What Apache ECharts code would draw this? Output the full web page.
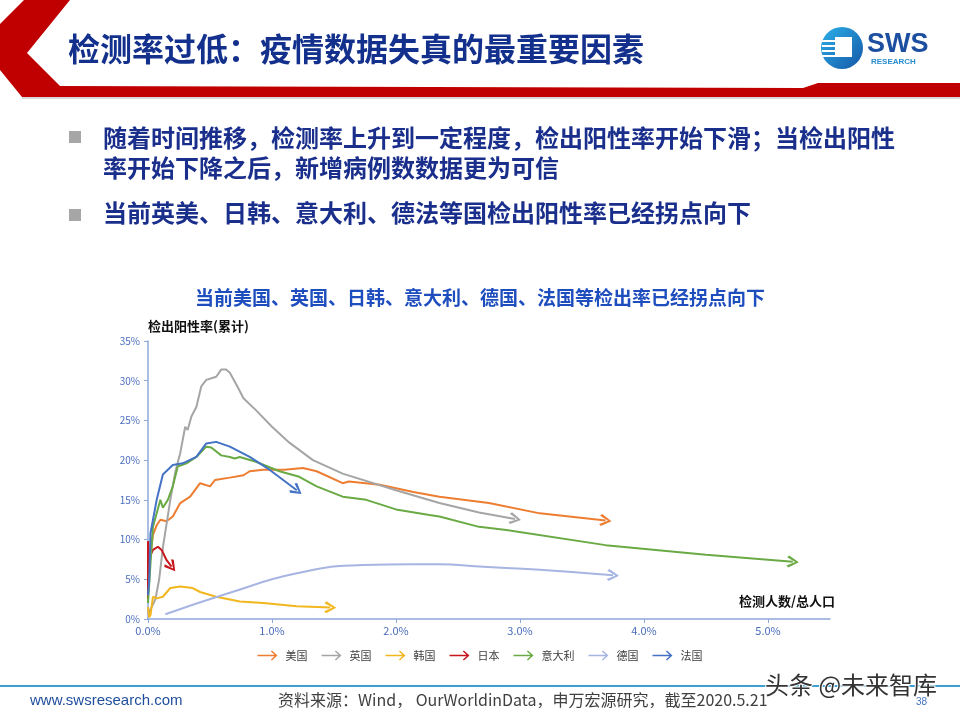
<!DOCTYPE html>
<html>
<head>
<meta charset="utf-8">
<script src="https://cdn.jsdelivr.net/npm/echarts@6/dist/echarts.min.js"></script>
<style>
  html, body { margin: 0; padding: 0; background: #fff; }
  #main { width: 960px; height: 720px; }
</style>
</head>
<body>
<div id="main"></div>
<script>
  // 检测人数/总人口 (%), 检出阳性率 (%)
  var usData = [[0.02,8],[0.04,10.6],[0.07,11.8],[0.1,12.5],[0.15,12.3],[0.2,12.9],[0.26,14.6],[0.34,15.4],[0.42,17.1],[0.5,16.7],[0.54,17.5],[0.66,17.8],[0.77,18.1],[0.82,18.6],[0.93,18.8],[1.1,18.8],[1.25,19.0],[1.36,18.6],[1.57,17.1],[1.62,17.3],[1.87,16.9],[2.14,16.0],[2.35,15.4],[2.75,14.6],[3.16,13.3],[3.69,12.4]]
  var ukData = [[0,0.7],[0.03,1.5],[0.06,2.5],[0.09,5],[0.12,9],[0.15,12],[0.18,15],[0.22,18.5],[0.26,20.9],[0.3,24.2],[0.32,23.8],[0.35,25.5],[0.39,26.7],[0.43,29.3],[0.47,30.1],[0.55,30.5],[0.59,31.4],[0.63,31.4],[0.66,31],[0.72,29.3],[0.77,27.8],[0.87,26.3],[1.0,24.2],[1.14,22.2],[1.33,20.0],[1.57,18.3],[2.0,16.2],[2.35,14.6],[2.67,13.4],[2.96,12.6]]
  var krData = [[0,1.5],[0.01,0.2],[0.02,0.5],[0.04,2.8],[0.07,2.6],[0.12,2.8],[0.18,3.9],[0.26,4.1],[0.36,3.9],[0.42,3.4],[0.55,2.8],[0.74,2.2],[0.93,2.0],[1.2,1.6],[1.47,1.45]]
  var jpData = [[0,2.5],[0,9.8],[0.01,6.5],[0.02,8],[0.04,8.7],[0.08,9.1],[0.11,8.7],[0.15,7.4],[0.19,6.6]]
  var itData = [[0,2],[0.02,7],[0.04,11.6],[0.1,15],[0.12,14],[0.16,15],[0.2,16.7],[0.24,19.2],[0.31,19.6],[0.39,20.4],[0.47,21.7],[0.51,21.6],[0.59,20.6],[0.66,20.4],[0.7,20.2],[0.74,20.4],[0.87,19.8],[1.06,18.6],[1.22,17.9],[1.36,16.7],[1.57,15.4],[1.76,15.0],[2.0,13.8],[2.27,13.1],[2.35,12.9],[2.67,11.6],[2.89,11.2],[3.69,9.3],[4.5,8.1],[5.2,7.2]]
  var deData = [[0.14,0.6],[0.66,3.3],[1.2,5.75],[1.73,6.8],[2.14,6.9],[2.35,6.9],[2.67,6.6],[3.16,6.2],[3.75,5.5]]
  var frData = [[0,3],[0.01,4.9],[0.02,10.8],[0.07,15],[0.12,18.2],[0.2,19.4],[0.28,19.6],[0.39,20.4],[0.47,22.1],[0.55,22.3],[0.66,21.7],[0.82,20.4],[0.98,18.8],[1.2,16.2]]

  var countries = ['美国', '英国', '韩国', '日本', '意大利', '德国', '法国']
  var seriesData = [usData, ukData, krData, jpData, itData, deData, frData]
  var colors = ['#ED7D31', '#A5A5A5', '#F2B71F', '#C8161D', '#6AAA45', '#A7B5E3', '#4472C4']
  var smoothFlags = [false, false, false, false, false, true, false]

  var yTicks = [0, 35, 5]
  var xTicks = [0, 5.5, 1]

  var chevron = 'path://M0,1.6 L1.6,0 L10,5 L1.6,10 L0,8.4 L7,5 Z'
  var legendArrow = 'path://M0,4.3 L17,4.3 L13.4,1 L14.4,0 L20,5 L14.4,10 L13.4,9 L17,5.7 L0,5.7 Z'

  var chart = echarts.init(document.getElementById('main'))

  function buildSeries(rotations) {
    return countries.map(function (name, i) {
      var arr = seriesData[i]
      var data = arr.map(function (p, j) {
        if (j === arr.length - 1) {
          return {
            value: p,
            symbol: chevron,
            symbolSize: 12,
            symbolRotate: rotations ? rotations[i] : 0,
            itemStyle: { color: colors[i] }
          }
        }
        return { value: p, symbol: 'none' }
      })
      return {
        name: name,
        type: 'line',
        smooth: smoothFlags[i],
        showSymbol: true,
        data: data,
        lineStyle: { color: colors[i], width: 2 },
        itemStyle: { color: colors[i] },
        emphasis: { disabled: true },
        animation: false
      }
    })
  }

  var font = '"Noto Sans CJK SC", "Noto Sans", sans-serif'

  var option = {
    animation: false,
    textStyle: { fontFamily: font },
    title: {
      text: '当前美国、英国、日韩、意大利、德国、法国等检出率已经拐点向下',
      left: 'center',
      top: 283,
      textStyle: { color: '#1E4DBE', fontSize: 19, fontWeight: 'bold', fontFamily: font }
    },
    legend: {
      data: countries,
      top: 645,
      left: 'center',
      itemWidth: 26,
      itemHeight: 10,
      itemGap: 14,
      icon: legendArrow,
      textStyle: { color: '#404040', fontSize: 11 }
    },
    grid: { left: 148, right: 130, top: 341, bottom: 101 },
    xAxis: {
      type: 'value',
      min: xTicks[0],
      max: xTicks[1],
      interval: xTicks[2],
      splitLine: { show: false },
      axisLine: { lineStyle: { color: '#8EA7DA', width: 1.5 } },
      axisTick: { show: true, length: 4, lineStyle: { color: '#8EA7DA' } },
      axisLabel: {
        color: '#4A6CBE', fontSize: 11, margin: 6, showMaxLabel: false,
        formatter: function (v) { return v.toFixed(1) + '%' }
      }
    },
    yAxis: {
      type: 'value',
      min: yTicks[0],
      max: yTicks[1],
      interval: yTicks[2],
      name: '检出阳性率(累计)',
      nameLocation: 'end',
      nameGap: 8,
      nameTextStyle: { color: '#111', fontSize: 13, fontWeight: 'bold', align: 'left' },
      splitLine: { show: false },
      axisLine: { show: true, lineStyle: { color: '#8EA7DA', width: 1.5 } },
      axisTick: { show: true, length: 4, lineStyle: { color: '#8EA7DA' } },
      axisLabel: {
        color: '#4A6CBE', fontSize: 10, margin: 8,
        formatter: function (v) { return v + '%' }
      }
    },
    graphic: [
      // header decoration
      {
        type: 'polygon', silent: true,
        shape: { points: [[24,0],[70,0],[27,53],[60,86],[803,88],[818,83],[960,83],[960,97],[22,97],[0,70],[0,24]] },
        style: { fill: '#C00000' }
      },
      { type: 'rect', silent: true, shape: { x: 22, y: 97, width: 938, height: 2 }, style: { fill: '#D9D9D9' } },
      {
        type: 'text', left: 68, top: 33, silent: true,
        style: { text: '检测率过低：疫情数据失真的最重要因素', fill: '#13308C', font: 'bold 32px ' + font }
      },
      // logo
      {
        type: 'circle', silent: true,
        shape: { cx: 842, cy: 48, r: 21 },
        style: {
          fill: new echarts.graphic.LinearGradient(0, 0, 1, 1, [
            { offset: 0, color: '#2BB0E8' }, { offset: 1, color: '#1557A8' }
          ])
        }
      },
      { type: 'rect', silent: true, shape: { x: 835, y: 37, width: 17, height: 20 }, style: { fill: '#fff' } },
      { type: 'rect', silent: true, shape: { x: 822, y: 40, width: 14, height: 2 }, style: { fill: '#fff' } },
      { type: 'rect', silent: true, shape: { x: 822, y: 45, width: 14, height: 2 }, style: { fill: '#fff' } },
      { type: 'rect', silent: true, shape: { x: 822, y: 50, width: 14, height: 2 }, style: { fill: '#fff' } },
      { type: 'rect', silent: true, shape: { x: 822, y: 55, width: 14, height: 2 }, style: { fill: '#fff' } },
      {
        type: 'text', left: 867, top: 31, silent: true,
        style: { text: 'SWS', fill: '#1D4FA0', font: 'bold 27px "Liberation Sans", Arial, sans-serif' }
      },
      {
        type: 'text', left: 871, top: 58, silent: true,
        style: { text: 'RESEARCH', fill: '#2A8ED0', font: 'bold 8px "Liberation Sans", Arial, sans-serif' }
      },
      // bullets
      { type: 'rect', silent: true, shape: { x: 69, y: 131, width: 12, height: 12 }, style: { fill: '#A6A6A6' } },
      { type: 'rect', silent: true, shape: { x: 69, y: 209, width: 12, height: 12 }, style: { fill: '#A6A6A6' } },
      {
        type: 'text', left: 103, top: 123, silent: true,
        style: {
          text: '随着时间推移，检测率上升到一定程度，检出阳性率开始下滑；当检出阳性\n率开始下降之后，新增病例数数据更为可信',
          fill: '#1A2F8C', font: 'bold 24px ' + font, lineHeight: 30
        }
      },
      {
        type: 'text', left: 103, top: 201, silent: true,
        style: { text: '当前英美、日韩、意大利、德法等国检出阳性率已经拐点向下', fill: '#1A2F8C', font: 'bold 24px ' + font }
      },
      // x axis name
      {
        type: 'text', right: 125, top: 595, silent: true,
        style: { text: '检测人数/总人口', fill: '#111', font: 'bold 13px ' + font }
      },
      // footer
      { type: 'rect', silent: true, shape: { x: 0, y: 685, width: 960, height: 2 }, style: { fill: '#3FA0D0' } },
      {
        type: 'text', left: 30, top: 693, silent: true,
        style: { text: 'www.swsresearch.com', fill: '#1F4E9E', font: '15px "Liberation Sans", Arial, sans-serif' }
      },
      {
        type: 'text', left: 278, top: 692, silent: true,
        style: { text: '资料来源：Wind， OurWorldinData，申万宏源研究，截至2020.5.21', fill: '#404040', font: '16px ' + font }
      },
      {
        type: 'text', left: 916, top: 697, silent: true,
        style: { text: '38', fill: '#4472C4', font: '10px "Liberation Sans", Arial, sans-serif' }
      },
      {
        type: 'text', left: 764, top: 672, silent: true,
        style: { text: '头条 @未来智库', fill: '#333', stroke: '#fff', lineWidth: 2, font: '24px ' + font }
      }
    ],
    series: buildSeries(null)
  }

  chart.setOption(option)

  // point the arrowheads along the last segment of each line
  var rotations = seriesData.map(function (arr) {
    var a = chart.convertToPixel({ gridIndex: 0 }, arr[arr.length - 2])
    var b = chart.convertToPixel({ gridIndex: 0 }, arr[arr.length - 1])
    return Math.atan2(-(b[1] - a[1]), b[0] - a[0]) * 180 / Math.PI
  })
  chart.setOption({ series: buildSeries(rotations) })
</script>
</body>
</html>
